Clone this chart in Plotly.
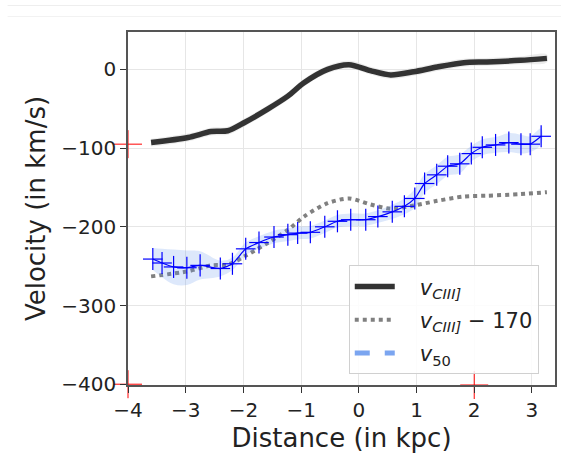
import plotly.graph_objects as go

# ---- data ----
ciii_x = [-3.60, -2.96, -2.56, -2.27, -1.98, -1.58, -1.23, -0.95, -0.54, -0.17,
          0.20, 0.55, 0.95, 1.36, 1.82, 2.22, 2.80, 3.26]
ciii_v = [-93, -86.5, -79, -78, -67.5, -50.5, -34, -17, 0, 6,
          -1.5, -7, -3, 3, 8.5, 9.5, 11.5, 14]
ciii_err = [5] * len(ciii_x)
ciii_offset = 170

v50_x = [-3.57, -3.41, -3.21, -2.98, -2.75, -2.40, -2.19, -1.96, -1.73, -1.47,
         -1.23, -1.06, -0.84, -0.59, -0.37, -0.14, 0.12, 0.33, 0.58, 0.79,
         0.97, 1.14, 1.35, 1.54, 1.75, 1.95, 2.14, 2.37, 2.60, 2.81, 2.97, 3.16]
v50_v = [-241, -246, -251, -252, -249, -253, -247, -228, -220, -213,
         -210, -208, -207, -200, -193, -191, -191, -187, -181, -174,
         -164, -145, -134, -123, -120, -107, -99, -96, -93, -95, -95, -85]
v50_band = [14, 18, 22, 22, 18, 10, 8, 8, 8, 8,
            8, 8, 8, 8, 8, 8, 8, 8, 9, 10,
            12, 12, 12, 12, 12, 10, 10, 10, 12, 12, 10, 10]
v50_xerr = [0.17] * len(v50_x)
v50_yerr = [14] * len(v50_x)

red_x = [-4.0, -4.0, 2.0]
red_y = [-95, -400, -401]

x_ticks = [-4, -3, -2, -1, 0, 1, 2, 3]
y_ticks = [0, -100, -200, -300, -400]

FONT = "DejaVu Sans"
SP = "\u00a0"

fig = go.Figure()

# grey band around v_CIII]
fig.add_trace(go.Scatter(
    x=ciii_x + ciii_x[::-1],
    y=[v + e for v, e in zip(ciii_v, ciii_err)] + [v - e for v, e in zip(ciii_v[::-1], ciii_err[::-1])],
    fill="toself", fillcolor="rgba(200,200,200,0.35)", line=dict(width=0, shape="spline"),
    mode="lines", hoverinfo="skip", showlegend=False))

fig.add_trace(go.Scatter(
    x=ciii_x, y=ciii_v, mode="lines", legendgroup="a",
    line=dict(color="#333333", width=5.5, shape="spline", smoothing=0.8),
    name=SP * 3 + "<i>v</i><sub><i>CIII]</i></sub>"))

fig.add_trace(go.Scatter(
    x=ciii_x, y=[v - ciii_offset for v in ciii_v], mode="lines", legendgroup="b",
    line=dict(color="#808080", width=4, dash="dot", shape="spline", smoothing=0.8),
    name=SP * 3 + "<i>v</i><sub><i>CIII]</i></sub> \u2212 170"))

# light blue band around v50
fig.add_trace(go.Scatter(
    x=v50_x + v50_x[::-1],
    y=[v + e for v, e in zip(v50_v, v50_band)] + [v - e for v, e in zip(v50_v[::-1], v50_band[::-1])],
    fill="toself", fillcolor="rgba(100,149,237,0.22)", line=dict(width=0, shape="spline"),
    mode="lines", hoverinfo="skip", showlegend=False))

# legend entry for v50
fig.add_trace(go.Scatter(
    x=[None], y=[None], mode="lines", legendgroup="c",
    line=dict(color="rgba(100,149,237,0.85)", width=5, dash="dash"),
    name=SP * 3 + "<i>v</i><sub>50</sub>"))

fig.add_trace(go.Scatter(
    x=v50_x, y=v50_v, mode="lines",
    line=dict(color="#0000ff", width=1.2, shape="spline", smoothing=0.6),
    error_x=dict(type="data", array=v50_xerr, color="#0000ff", thickness=1.2, width=0),
    error_y=dict(type="data", array=v50_yerr, color="#0000ff", thickness=1.2, width=0),
    showlegend=False, hoverinfo="skip"))

fig.add_trace(go.Scatter(
    x=red_x, y=red_y, mode="markers", cliponaxis=False,
    marker=dict(symbol="cross-thin", size=20, line=dict(color="red", width=1)),
    showlegend=False, hoverinfo="skip"))

axis_common = dict(
    showgrid=True, gridcolor="#e6e6e6", gridwidth=1,
    zeroline=False, showline=True, linecolor="#555555", linewidth=1.5, mirror=True,
    ticks="outside", ticklen=6, tickwidth=1, tickcolor="#333333",
    tickfont=dict(family=FONT, size=20, color="#222222"),
    automargin=False,
)

fig.update_xaxes(
    range=[-4.0, 3.40], tickvals=x_ticks,
    ticktext=[("\u2212" + str(-t)) if t < 0 else str(t) for t in x_ticks],
    title=dict(text="Distance (in kpc)", font=dict(family=FONT, size=26, color="#222222"), standoff=8),
    **axis_common)
fig.update_yaxes(
    range=[-401, 47.5], tickvals=y_ticks,
    ticktext=[("\u2212" + str(-t)) if t < 0 else str(t) for t in y_ticks],
    title=dict(text="Velocity (in km/s)", font=dict(family=FONT, size=26, color="#222222"), standoff=8),
    **axis_common)

fig.update_layout(
    width=561, height=455,
    margin=dict(l=128, r=6, t=32, b=70),
    plot_bgcolor="white", paper_bgcolor="white",
    font=dict(family=FONT, color="#222222"),
    legend=dict(x=0.517, y=0.339, xanchor="left", yanchor="top",
                bgcolor="rgba(255,255,255,0.85)", bordercolor="#d0d0d0", borderwidth=1,
                font=dict(family=FONT, size=21, color="#222222"),
                tracegroupgap=3, itemwidth=40),
    shapes=[
        dict(type="line", xref="paper", yref="paper", x0=-0.282, x1=1.02, y0=1.075, y1=1.075,
             line=dict(color="#eeeeee", width=1)),
        dict(type="line", xref="paper", yref="paper", x0=-0.282, x1=1.02, y0=1.044, y1=1.044,
             line=dict(color="#f2f2f2", width=1)),
    ],
)

fig.write_html("out.html", config={"displayModeBar": False},
               post_script="document.body.style.margin='0';document.body.style.padding='0';")
